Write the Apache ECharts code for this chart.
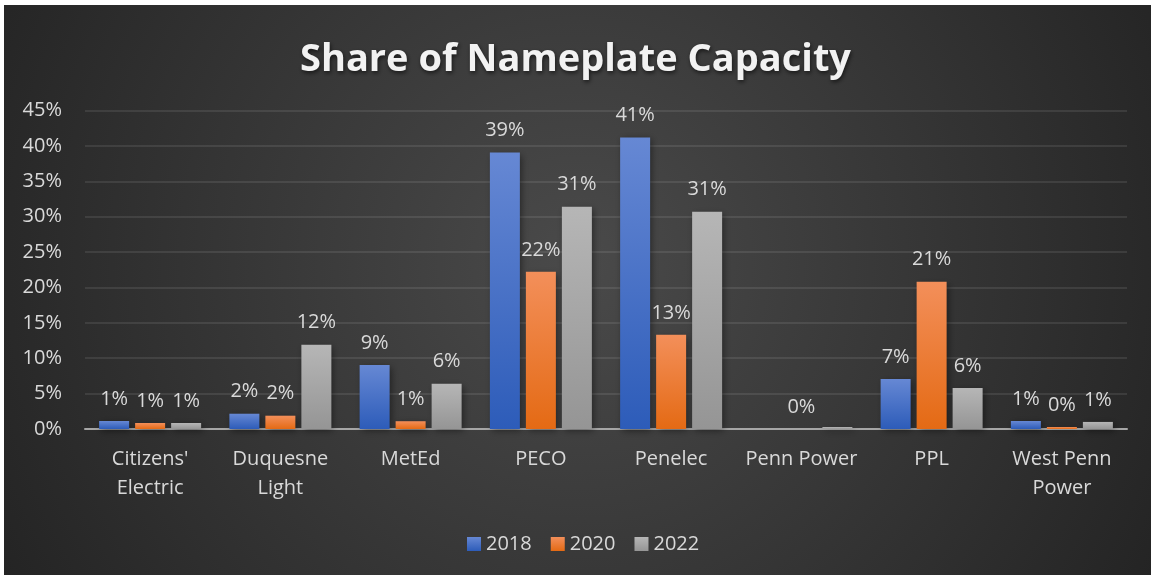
<!DOCTYPE html>
<html>
<head>
<meta charset="utf-8">
<script src="https://cdn.jsdelivr.net/npm/echarts@6/dist/echarts.min.js"></script>
<style>
html,body{margin:0;padding:0;background:#ffffff;}
#chart{width:1151px;height:575px;}
</style>
</head>
<body>
<div id="chart"></div>
<script>
const chartTitle = "Share of Nameplate Capacity";
const categories = ["Citizens'\nElectric", "Duquesne\nLight", "MetEd", "PECO", "Penelec", "Penn Power", "PPL", "West Penn\nPower"];
const seriesNames = ["2018", "2020", "2022"];
const values2018 = [1.13, 2.16, 9.05, 39.06, 41.2, null, 7.07, 1.13];
const values2020 = [0.85, 1.88, 1.1, 22.2, 13.3, 0, 20.8, 0.28];
const values2022 = [0.85, 11.9, 6.4, 31.4, 30.7, 0.28, 5.8, 1.0];
// data labels that the reference does not show: [seriesIndex, categoryIndex]
const hiddenLabels = [[2, 5]];
const yTicks = { min: 0, max: 45, interval: 5 };

const seriesValues = [values2018, values2020, values2022];
const gradients = [
  ['#6688d4', '#2d5cb9'],
  ['#f38f5a', '#e46a14'],
  ['#b6b6b6', '#959595']
];
const font = '"Open Sans", "Liberation Sans", sans-serif';

const chart = echarts.init(document.getElementById('chart'), null, { renderer: 'canvas' });

const series = seriesNames.map((name, si) => ({
  name: name,
  type: 'bar',
  data: seriesValues[si],
  barWidth: 30,
  barGap: '20%',
  itemStyle: {
    color: new echarts.graphic.LinearGradient(0, 0, 0, 1, [
      { offset: 0, color: gradients[si][0] },
      { offset: 1, color: gradients[si][1] }
    ]),
    shadowBlur: 7,
    shadowOffsetX: 2,
    shadowOffsetY: 2,
    shadowColor: 'rgba(0,0,0,0.45)'
  },
  label: {
    show: true,
    position: 'top',
    distance: 12,
    color: '#d9d9d9',
    fontFamily: font,
    fontSize: 20,
    formatter: p => {
      if (p.value === null || p.value === undefined) return '';
      for (const h of hiddenLabels) if (h[0] === si && h[1] === p.dataIndex) return '';
      return Math.round(p.value) + '%';
    }
  },
  emphasis: { disabled: true }
}));

chart.setOption({
  animation: false,
  graphic: [{
    type: 'rect',
    z: -10,
    silent: true,
    shape: { x: 4, y: 5, width: 1147, height: 570 },
    style: {
      fill: new echarts.graphic.RadialGradient(0.5, 0.45, 1.15, [
        { offset: 0, color: '#4a4a4a' },
        { offset: 1, color: '#242424' }
      ])
    }
  }],
  title: {
    text: chartTitle,
    left: 'center',
    top: 33,
    textStyle: {
      color: '#f2f2f2',
      fontFamily: font,
      fontWeight: 'bold',
      fontSize: 38,
      lineHeight: 44,
      textShadowColor: 'rgba(0,0,0,0.6)',
      textShadowBlur: 4,
      textShadowOffsetX: 1,
      textShadowOffsetY: 2
    }
  },
  legend: {
    data: seriesNames,
    left: 462,
    top: 529,
    icon: 'rect',
    itemWidth: 14,
    itemHeight: 14,
    itemGap: 19,
    textStyle: { color: '#d9d9d9', fontFamily: font, fontSize: 20 }
  },
  grid: { left: 85, right: 24, top: 110.5, bottom: 146, containLabel: false },
  xAxis: {
    type: 'category',
    data: categories,
    axisLine: { show: true, lineStyle: { color: '#a6a6a6', width: 2 } },
    axisTick: { show: false },
    axisLabel: {
      color: '#d9d9d9',
      fontFamily: font,
      fontSize: 20,
      lineHeight: 29,
      margin: 16,
      interval: 0
    }
  },
  yAxis: {
    type: 'value',
    min: yTicks.min,
    max: yTicks.max,
    interval: yTicks.interval,
    axisLine: { show: false },
    axisTick: { show: false },
    splitLine: { lineStyle: { color: 'rgba(255,255,255,0.12)', width: 1.5 } },
    axisLabel: {
      color: '#d9d9d9',
      fontFamily: font,
      fontSize: 20,
      margin: 23,
      formatter: '{value}%'
    }
  },
  series: series
});
</script>
</body>
</html>
